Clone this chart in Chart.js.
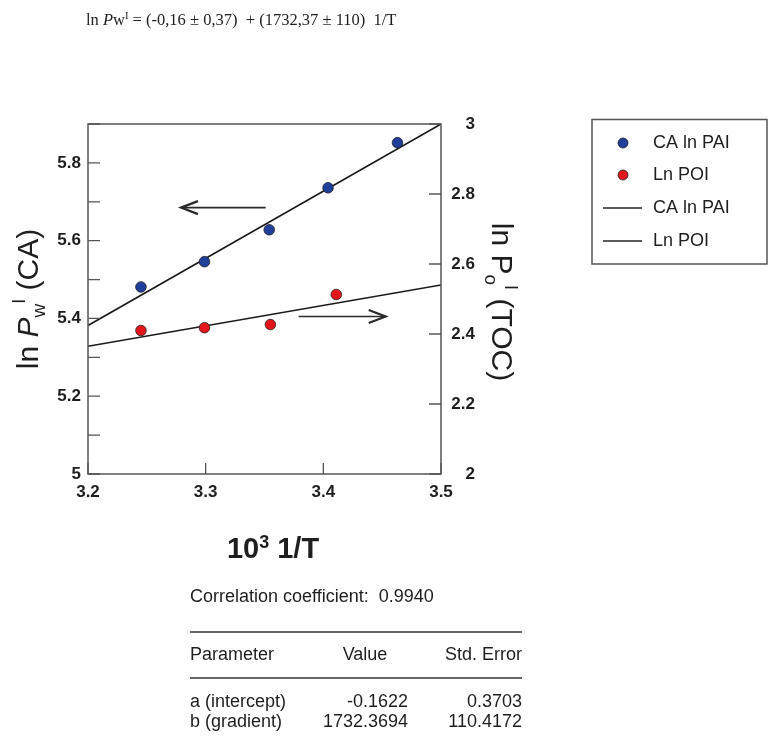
<!DOCTYPE html>
<html><head><meta charset="utf-8">
<script src="https://cdn.jsdelivr.net/npm/chart.js@4.4.1/dist/chart.umd.min.js"></script>
<style>html,body{margin:0;padding:0;background:#fff;}canvas{display:block;}</style>
</head><body>
<canvas id="c" width="769" height="741"></canvas>
<script>
// ---- data ----
const caX = [3.245, 3.299, 3.354, 3.404, 3.463];
const caY = [5.481, 5.546, 5.628, 5.736, 5.852];
const poiX = [3.245, 3.299, 3.355, 3.411];
const poiY = [2.410, 2.418, 2.427, 2.513];
const caFitX = [3.2, 3.5];
const caFitY = [5.382, 5.900];
const poiFitX = [3.2, 3.5];
const poiFitY = [2.365, 2.540];
const legendLabels = ['CA ln PAI', 'Ln POI', 'CA ln PAI', 'Ln POI'];
const tableHeader = ['Parameter', 'Value', 'Std. Error'];
const tableRows = [['a (intercept)', '-0.1622', '0.3703'], ['b (gradient)', '1732.3694', '110.4172']];
const correlationText = 'Correlation coefficient:  0.9940';

const pts = (xs, ys) => xs.map((x, i) => ({x, y: ys[i]}));
const SANS = '"Liberation Sans", Arial, sans-serif';
const SERIF = '"Liberation Serif", "Times New Roman", serif';
const TXT = '#1e1e1e';
const BLUE = '#1f3f9b';
const RED = '#e3161c';

function rich(ctx, parts, x, y, rot) {
  ctx.save();
  ctx.translate(x, y);
  ctx.rotate(rot || 0);
  let w = 0;
  parts.forEach(p => { ctx.font = p.f; w += ctx.measureText(p.t).width; });
  let cx = -w / 2;
  ctx.textBaseline = 'alphabetic';
  ctx.textAlign = 'left';
  ctx.fillStyle = TXT;
  parts.forEach(p => { ctx.font = p.f; ctx.fillText(p.t, cx, p.dy || 0); cx += ctx.measureText(p.t).width; });
  ctx.restore();
}

const decor = {
  id: 'decor',
  afterDraw(chart) {
    const ctx = chart.ctx;
    const a = chart.chartArea;
    const xs = chart.scales.x, ys = chart.scales.y, y1 = chart.scales.y1;
    ctx.save();
    // frame
    ctx.strokeStyle = '#555';
    ctx.lineWidth = 1.5;
    ctx.strokeRect(a.left, a.top, a.right - a.left, a.bottom - a.top);
    // inward tick marks
    ctx.lineWidth = 1.3;
    ctx.beginPath();
    ys.ticks.forEach(t => { const p = ys.getPixelForValue(t.value); ctx.moveTo(a.left, p); ctx.lineTo(a.left + 12, p); });
    y1.ticks.forEach(t => { const p = y1.getPixelForValue(t.value); ctx.moveTo(a.right, p); ctx.lineTo(a.right - 12, p); });
    xs.ticks.forEach(t => { const p = xs.getPixelForValue(t.value); ctx.moveTo(p, a.bottom); ctx.lineTo(p, a.bottom - 11); });
    ctx.stroke();
    // arrows (positions given in data units)
    const arrows = [
      {x0: 3.351, x1: 3.279, y: 5.685, s: ys},
      {x0: 3.379, x1: 3.453, y: 2.450, s: y1}
    ];
    ctx.strokeStyle = '#2a2a2a';
    ctx.lineWidth = 1.7;
    arrows.forEach(ar => {
      const px0 = xs.getPixelForValue(ar.x0), px1 = xs.getPixelForValue(ar.x1), py = ar.s.getPixelForValue(ar.y);
      const dir = Math.sign(px1 - px0);
      ctx.beginPath();
      ctx.moveTo(px0, py); ctx.lineTo(px1, py);
      ctx.stroke();
      ctx.lineWidth = 2.2;
      ctx.beginPath();
      ctx.moveTo(px1 - dir * 17, py - 6.5); ctx.lineTo(px1, py); ctx.lineTo(px1 - dir * 17, py + 6.5);
      ctx.stroke();
      ctx.lineWidth = 1.7;
    });
    // axis titles
    rich(ctx, [
      {t: 'ln ', f: '30px ' + SANS},
      {t: 'P', f: 'italic 30px ' + SANS},
      {t: 'w', f: '19px ' + SANS, dy: 7},
      {t: 'I', f: '18px ' + SANS, dy: -13},
      {t: ' (CA)', f: '30px ' + SANS}
    ], 38, 299, -Math.PI / 2);
    rich(ctx, [
      {t: 'ln P', f: '30px ' + SANS},
      {t: 'o', f: '19px ' + SANS, dy: 7},
      {t: 'I', f: '18px ' + SANS, dy: -13},
      {t: ' (TOC)', f: '30px ' + SANS}
    ], 492, 302, Math.PI / 2);
    rich(ctx, [
      {t: '10', f: 'bold 29px ' + SANS},
      {t: '3', f: 'bold 18px ' + SANS, dy: -10},
      {t: ' 1/T', f: 'bold 29px ' + SANS}
    ], 273, 558, 0);
    // top formula
    ctx.fillStyle = TXT;
    const fparts = [
      {t: 'ln ', f: '16.5px ' + SERIF},
      {t: 'P', f: 'italic 16.5px ' + SERIF},
      {t: 'w', f: '16.5px ' + SERIF},
      {t: 'I', f: '10.5px ' + SERIF, dy: -6},
      {t: ' = (-0,16 \u00b1 0,37)  + (1732,37 \u00b1 110)  1/T', f: '16.5px ' + SERIF}
    ];
    let fx = 86;
    ctx.textAlign = 'left'; ctx.textBaseline = 'alphabetic';
    fparts.forEach(p => { ctx.font = p.f; ctx.fillText(p.t, fx, 25 + (p.dy || 0)); fx += ctx.measureText(p.t).width; });
    // legend
    ctx.strokeStyle = '#555'; ctx.lineWidth = 1.5;
    ctx.strokeRect(592, 119.5, 175, 144.5);
    const ly = [143, 175, 208, 241];
    ctx.font = '18px ' + SANS; ctx.textBaseline = 'middle'; ctx.textAlign = 'left';
    [BLUE, RED].forEach((c, i) => {
      ctx.beginPath(); ctx.arc(623, ly[i], 5, 0, Math.PI * 2);
      ctx.fillStyle = c; ctx.fill(); ctx.lineWidth = 0.8; ctx.strokeStyle = '#222'; ctx.stroke();
    });
    ctx.strokeStyle = '#222'; ctx.lineWidth = 1.5;
    [2, 3].forEach(i => { ctx.beginPath(); ctx.moveTo(603, ly[i]); ctx.lineTo(642, ly[i]); ctx.stroke(); });
    ctx.fillStyle = TXT;
    legendLabels.forEach((t, i) => ctx.fillText(t, 653, ly[i]));
    // correlation + table
    ctx.font = '18px ' + SANS;
    ctx.fillText(correlationText, 190, 597);
    ctx.strokeStyle = '#333'; ctx.lineWidth = 1.5;
    ctx.beginPath(); ctx.moveTo(190, 632); ctx.lineTo(522, 632); ctx.moveTo(190, 678); ctx.lineTo(522, 678); ctx.stroke();
    ctx.textAlign = 'left'; ctx.fillText(tableHeader[0], 190, 655);
    ctx.textAlign = 'center'; ctx.fillText(tableHeader[1], 365, 655);
    ctx.textAlign = 'right'; ctx.fillText(tableHeader[2], 522, 655);
    tableRows.forEach((r, i) => {
      const yy = 702 + i * 20;
      ctx.textAlign = 'left'; ctx.fillText(r[0], 190, yy);
      ctx.textAlign = 'right'; ctx.fillText(r[1], 408, yy); ctx.fillText(r[2], 522, yy);
    });
    ctx.restore();
  }
};

const tickFont = {family: SANS, size: 17, weight: 'bold'};
new Chart(document.getElementById('c'), {
  type: 'scatter',
  data: {
    datasets: [
      {label: 'CA ln PAI', data: pts(caX, caY), yAxisID: 'y', backgroundColor: BLUE, borderColor: '#222', borderWidth: 0.8, pointRadius: 5.3},
      {label: 'Ln POI', data: pts(poiX, poiY), yAxisID: 'y1', backgroundColor: RED, borderColor: '#222', borderWidth: 0.8, pointRadius: 5.3},
      {label: 'CA ln PAI fit', data: pts(caFitX, caFitY), yAxisID: 'y', showLine: true, borderColor: '#1a1a1a', borderWidth: 1.6, pointRadius: 0},
      {label: 'Ln POI fit', data: pts(poiFitX, poiFitY), yAxisID: 'y1', showLine: true, borderColor: '#1a1a1a', borderWidth: 1.6, pointRadius: 0}
    ]
  },
  options: {
    responsive: false,
    animation: false,
    events: [],
    layout: {padding: {left: 0, right: 294, top: 124, bottom: 227}},
    plugins: {legend: {display: false}, tooltip: {enabled: false}},
    scales: {
      x: {
        type: 'linear', min: 3.2, max: 3.5,
        grid: {display: false, drawTicks: false}, border: {display: false},
        ticks: {stepSize: 0.1, font: tickFont, color: TXT, padding: 8, maxRotation: 0,
          callback: v => v.toFixed(1)},
        afterFit: s => { s.height = 40; }
      },
      y: {
        position: 'left', min: 5, max: 5.9,
        grid: {display: false, drawTicks: false}, border: {display: false},
        ticks: {stepSize: 0.1, font: tickFont, color: TXT, padding: 7,
          callback: v => { const r = Math.round(v * 10); if (r % 2) return ''; return r === 50 ? '5' : (r / 10).toFixed(1); }},
        afterFit: s => { s.width = 88; }
      },
      y1: {
        position: 'right', min: 2, max: 3,
        grid: {display: false, drawTicks: false}, border: {display: false},
        ticks: {stepSize: 0.2, font: tickFont, color: TXT, padding: 8, crossAlign: 'far',
          callback: v => { const r = Math.round(v * 10); return (r % 10 === 0) ? String(r / 10) : (r / 10).toFixed(1); }},
        afterFit: s => { s.width = 34; }
      }
    }
  },
  plugins: [decor]
});
</script>
</body></html>
